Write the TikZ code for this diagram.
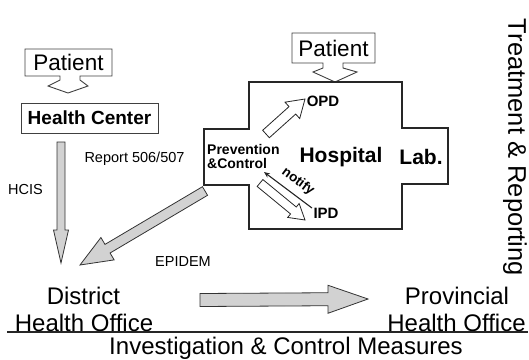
\documentclass[tikz,border=0pt]{standalone}
\usepackage{fontspec}
\setmainfont{Liberation Sans}
\usetikzlibrary{calc,arrows.meta}
\newcommand{\fatarrow}[6]{%
  \coordinate (fah) at ($(#3)!#6!(#2)$);
  \draw[#1] ($(#2)!#4!90:(#3)$) -- ($(fah)!#4!90:(#3)$) -- ($(fah)!#5!90:(#3)$) -- (#3) -- ($(fah)!#5!-90:(#3)$) -- ($(fah)!#4!-90:(#3)$) -- ($(#2)!#4!-90:(#3)$) -- cycle;}
\begin{document}
\begin{tikzpicture}[x=1pt,y=-1pt,
  big/.style={inner sep=0pt, font=\fontsize{24}{26}\selectfont},
  small/.style={inner sep=0pt, font=\fontsize{14.5}{16}\selectfont},
  smallb/.style={inner sep=0pt, font=\fontsize{14}{16}\selectfont\bfseries},
  boxline/.style={draw=black!75, line width=0.9pt},
  grayarrow/.style={draw=black!80, line width=0.8pt, fill=gray!35},
  whitearrow/.style={draw=black!85, line width=0.8pt, fill=white},
  hosp/.style={draw=black!85, line width=1.3pt}]
\useasboundingbox (0,0) rectangle (529,359);

% Patient 1 callout
\draw[boxline, fill=white] (60,76) -- (25,76) -- (25,49) -- (112,49) -- (112,76) -- (80,76) -- (80,80) -- (88,86) -- (68,93) -- (48,86) -- (60,80) -- cycle;
\node[inner sep=0pt, font=\fontsize{22.5}{24}\selectfont] (p1) at (68.5,62.5) {Patient};

% Health Center
\node[boxline, inner sep=0pt, minimum width=137pt, minimum height=30pt, font=\fontsize{19}{21}\selectfont\bfseries] (hc) at (89.5,118) {Health Center};

% Patient 2 callout
\draw[boxline, fill=white] (323,63) -- (292,63) -- (292,33) -- (375,33) -- (375,63) -- (343,63) -- (343,68) -- (357,72) -- (335,82) -- (313,72) -- (323,68) -- cycle;
\node[inner sep=0pt, font=\fontsize{22.5}{24}\selectfont] (p2) at (333.5,48) {Patient};

% Hospital cross
\draw[hosp] (249,82) -- (402,82) -- (402,128) -- (448,128) -- (448,184) -- (402,184) -- (402,229) -- (249,229) -- (249,185) -- (204,185) -- (204,129) -- (249,129) -- cycle;

\node[inner sep=0pt, font=\fontsize{21}{23}\selectfont\bfseries] (hosptxt) at (341,157) {Hospital};
\node[inner sep=0pt, font=\fontsize{21}{23}\selectfont\bfseries] (lab) at (421,157) {Lab.};
\node[smallb, align=left, anchor=west] (prev) at (207,156.5) {Prevention\\[-2pt]\&Control};
\node[inner sep=0pt, font=\fontsize{15}{16}\selectfont\bfseries] (opd) at (323,101.5) {OPD};
\node[inner sep=0pt, font=\fontsize{15}{16}\selectfont\bfseries] (ipd) at (326,213.5) {IPD};

% OPD / IPD arrows
\coordinate (o1) at (266,134);
\coordinate (o2) at (305,99);
\fatarrow{whitearrow}{o1}{o2}{5pt}{11pt}{17pt}
\coordinate (i1) at (260,183);
\coordinate (i2) at (305,220);
\fatarrow{whitearrow}{i1}{i2}{4.5pt}{9pt}{15pt}

% notify
\coordinate (n1) at (312,208);
\coordinate (n2) at (264,172);
\draw[line width=1.1pt, black!85, -{Stealth[length=6pt,width=5pt]}] (n1) -- (n2);
\node[inner sep=0pt, font=\fontsize{13.5}{15}\selectfont\bfseries, rotate=-37] (notify) at (298,181.5) {notify};

% gray arrows
\coordinate (v1) at (61,142);
\coordinate (v2) at (61,263);
\fatarrow{grayarrow}{v1}{v2}{4pt}{7.5pt}{33pt}
\coordinate (d1) at (205,191);
\coordinate (d2) at (80,265);
\fatarrow{grayarrow}{d1}{d2}{5pt}{13pt}{32pt}
\coordinate (h1) at (200,300);
\coordinate (h2) at (368,299);
\fatarrow{grayarrow}{h1}{h2}{6.5pt}{14pt}{40pt}

% labels
\node[small] (rep) at (134.5,159) {Report 506/507};
\node[small] (hcis) at (25.5,190) {HCIS};
\node[small] (epi) at (183,262) {EPIDEM};

\node[big] (dist1) at (83.5,296) {District};
\node[big] (dist2) at (84,323) {Health Office};
\node[big] (prov1) at (457,296) {Provincial};
\node[big] (prov2) at (456.5,323) {Health Office};
\coordinate (u1) at (7,332);
\coordinate (u2) at (528,332);
\draw[black!85, line width=1.4pt] (u1) -- (u2);
\node[big] (inv) at (286,348.5) {Investigation \& Control Measures};
\node[inner sep=0pt, font=\fontsize{25.5}{27}\selectfont, rotate=-90] (treat) at (515,147.5) {Treatment \& Reporting};
\end{tikzpicture}
\end{document}
